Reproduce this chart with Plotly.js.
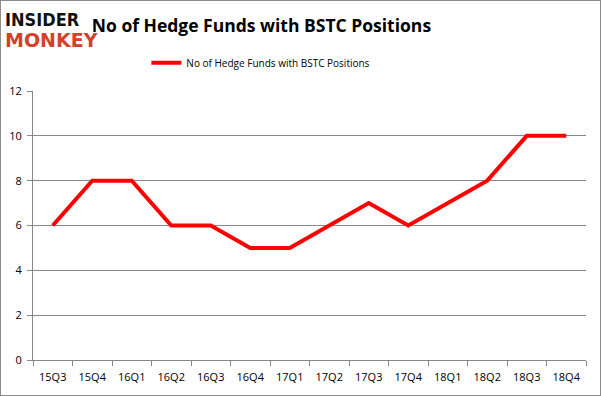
<!DOCTYPE html>
<html><head><meta charset="utf-8">
<script src="https://cdn.plot.ly/plotly-3.0.1.min.js"></script>
<style>
html,body{margin:0;padding:0;background:#fff;}
#wrap{position:relative;width:601px;height:396px;}
#chart{width:601px;height:396px;}
#border{position:absolute;left:0;top:0;width:599px;height:394px;border:1px solid #8c8c8c;pointer-events:none;}
</style></head>
<body>
<div id="wrap"><div id="chart"></div><div id="border"></div></div>
<script>
const quarters = ["15Q3","15Q4","16Q1","16Q2","16Q3","16Q4","17Q1","17Q2","17Q3","17Q4","18Q1","18Q2","18Q3","18Q4"];
const funds = [6,8,8,6,6,5,5,6,7,6,7,8,10,10];
const seriesName = "No of Hedge Funds with BSTC Positions";
const yTicks = [0,2,4,6,8,10,12];

const trace = {
  x: quarters, y: funds, type: "scatter", mode: "lines", name: seriesName,
  line: {color: "#ff0000", width: 4}
};
const layout = {
  width: 601, height: 396,
  margin: {l: 33, r: 15, t: 91, b: 36},
  paper_bgcolor: "#fff", plot_bgcolor: "#fff",
  font: {family: "Open Sans, Noto Sans, sans-serif", color: "#000", size: 11},
  title: {text: "<b>No of Hedge Funds with BSTC Positions</b>", xref: "container", x: 0.435, xanchor: "center", y: 0.935, yanchor: "middle",
          font: {size: 17.5, family: "Open Sans, Noto Sans, sans-serif", color: "#000"}},
  showlegend: true,
  legend: {orientation: "h", x: 0.205, xanchor: "left", y: 1.105, yanchor: "middle", font: {size: 10}, itemwidth: 30},
  xaxis: {type: "category", tickson: "boundaries", ticks: "outside", ticklen: 5, tickcolor: "#888",
          showline: true, linecolor: "#888", linewidth: 1, showgrid: false, zeroline: false,
          tickfont: {size: 11}, range: [-0.5, 13.5], ticklabelstandoff: 7},
  yaxis: {range: [0, 12], tickvals: yTicks, ticks: "outside", ticklen: 5, tickcolor: "#888",
          showline: true, linecolor: "#888", gridcolor: "#888", gridwidth: 1, zeroline: false,
          tickfont: {size: 11}, ticklabelstandoff: 3},
  annotations: [
    {text: "<b>INSIDER</b>", xref: "paper", yref: "paper", x: -0.054, y: 1.265, xanchor: "left", yanchor: "middle",
     showarrow: false, font: {size: 18, family: "DejaVu Sans Condensed, DejaVu Sans, sans-serif", color: "#111"}},
    {text: "<b>MONKEY</b>", xref: "paper", yref: "paper", x: -0.054, y: 1.19, xanchor: "left", yanchor: "middle",
     showarrow: false, font: {size: 19, family: "DejaVu Sans, sans-serif", color: "#d4412b"}}
  ]
};
Plotly.newPlot("chart", [trace], layout, {displayModeBar: false, staticPlot: true});
</script>
</body></html>
